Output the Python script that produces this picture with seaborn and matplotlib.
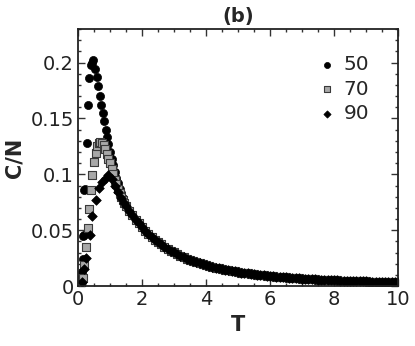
import matplotlib
matplotlib.use("Agg")
import matplotlib.pyplot as plt
import seaborn as sns
import pandas as pd
from matplotlib.ticker import MultipleLocator, FuncFormatter

# ---- data ----
T50_low = [0.12, 0.13, 0.14, 0.16, 0.17, 0.19, 0.20, 0.21, 0.27, 0.31, 0.35, 0.40, 0.44,
           0.48, 0.54, 0.60, 0.64, 0.69, 0.72, 0.77, 0.82, 0.86, 0.90, 0.95, 1.00, 1.05,
           1.10, 1.15, 1.20, 1.25, 1.30, 1.35, 1.40, 1.45]
C50_low = [0.004, 0.008, 0.013, 0.024, 0.045, 0.046, 0.086, 0.087, 0.128, 0.1625, 0.186,
           0.198, 0.200, 0.202, 0.194, 0.187, 0.179, 0.170, 0.1625, 0.155, 0.148, 0.140,
           0.133, 0.127, 0.120, 0.114, 0.108, 0.102, 0.097, 0.092, 0.087, 0.083, 0.079, 0.075]

T70_low = [0.10, 0.15, 0.20, 0.25, 0.30, 0.35, 0.40, 0.45, 0.50, 0.55, 0.60, 0.65, 0.70,
           0.75, 0.80, 0.85, 0.90, 0.95, 1.00, 1.05, 1.10, 1.15, 1.20, 1.25, 1.30, 1.35,
           1.40, 1.45]
C70_low = [0.002, 0.007, 0.019, 0.035, 0.052, 0.069, 0.086, 0.0995, 0.111, 0.119, 0.125,
           0.128, 0.129, 0.128, 0.126, 0.123, 0.118, 0.114, 0.110, 0.105, 0.100, 0.095,
           0.091, 0.087, 0.083, 0.080, 0.077, 0.074]

T90_low = [0.11, 0.18, 0.25, 0.36, 0.45, 0.55, 0.65, 0.76, 0.86, 0.95, 1.05, 1.15, 1.25,
           1.35, 1.45]
C90_low = [0.004, 0.015, 0.025, 0.046, 0.063, 0.077, 0.088, 0.093, 0.097, 0.099, 0.096,
           0.090, 0.084, 0.079, 0.074]

T_tail = [1.5, 1.6, 1.7, 1.8, 1.9, 2.0, 2.1, 2.2, 2.3, 2.4, 2.5, 2.6, 2.7, 2.8, 2.9,
          3.0, 3.1, 3.2, 3.3, 3.4, 3.5, 3.6, 3.7, 3.8, 3.9, 4.0, 4.1, 4.2, 4.3, 4.4,
          4.5, 4.6, 4.7, 4.8, 4.9, 5.0, 5.1, 5.2, 5.3, 5.4, 5.5, 5.6, 5.7, 5.8, 5.9,
          6.0, 6.1, 6.2, 6.3, 6.4, 6.5, 6.6, 6.7, 6.8, 6.9, 7.0, 7.1, 7.2, 7.3, 7.4,
          7.5, 7.6, 7.7, 7.8, 7.9, 8.0, 8.1, 8.2, 8.3, 8.4, 8.5, 8.6, 8.7, 8.8, 8.9,
          9.0, 9.1, 9.2, 9.3, 9.4, 9.5, 9.6, 9.7, 9.8, 9.9, 10.0]
C_tail = [0.0717, 0.0674, 0.0634, 0.0596, 0.0561, 0.0528, 0.0497, 0.0469, 0.0442, 0.0417,
          0.0394, 0.0373, 0.0353, 0.0334, 0.0317, 0.0301, 0.0286, 0.0272, 0.0259, 0.0247,
          0.0235, 0.0225, 0.0215, 0.0205, 0.0196, 0.0188, 0.0180, 0.0173, 0.0166, 0.0159,
          0.0153, 0.0147, 0.0142, 0.0136, 0.0131, 0.0127, 0.0122, 0.0118, 0.0114, 0.0110,
          0.0106, 0.0103, 0.0100, 0.0097, 0.0094, 0.0091, 0.0088, 0.0085, 0.0083, 0.0080,
          0.0078, 0.0076, 0.0074, 0.0072, 0.0070, 0.0068, 0.0066, 0.0064, 0.0063, 0.0061,
          0.0059, 0.0058, 0.0057, 0.0055, 0.0054, 0.0053, 0.0051, 0.0050, 0.0049, 0.0048,
          0.0047, 0.0046, 0.0045, 0.0044, 0.0043, 0.0042, 0.0041, 0.0040, 0.0039, 0.0039,
          0.0038, 0.0037, 0.0036, 0.0036, 0.0035, 0.0034]

labels = ["50", "70", "90"]
x_ticks = [0, 2, 4, 6, 8, 10]
y_ticks = [0, 0.05, 0.1, 0.15, 0.2]

series = {
    "50": (T50_low + T_tail, C50_low + C_tail),
    "70": (T70_low + T_tail, C70_low + C_tail),
    "90": (T90_low + T_tail, C90_low + C_tail),
}
styles = {
    "50": dict(marker="o", s=34, color="black", edgecolor="black", linewidth=0.5),
    "70": dict(marker="s", s=30, color="#a8a8a8", edgecolor="#3a3a3a", linewidth=0.8),
    "90": dict(marker="D", s=24, color="black", edgecolor="black", linewidth=0.5),
}

sns.set_style("ticks")
plt.rcParams["font.family"] = ["DejaVu Sans"]

fig = plt.figure(figsize=(4.15, 3.46), dpi=100)
ax = fig.add_axes([0.188, 0.173, 0.771, 0.743])

for lab in labels:
    T, C = series[lab]
    df = pd.DataFrame({"T": T, "C": C})
    sns.scatterplot(data=df, x="T", y="C", ax=ax, label=lab, clip_on=True, **styles[lab])

ax.set_xlim(0, 10)
ax.set_ylim(0, 0.23)
ax.set_xticks(x_ticks)
ax.set_yticks(y_ticks)
ax.xaxis.set_minor_locator(MultipleLocator(0.5))
ax.yaxis.set_minor_locator(MultipleLocator(0.01))
ax.yaxis.set_major_formatter(FuncFormatter(lambda v, p: f"{v:g}"))
ax.tick_params(which="both", direction="in", top=True, right=True, width=1.0,
               color="#333333")
ax.tick_params(which="major", length=5, labelsize=14, labelcolor="#222222", pad=3)
ax.tick_params(which="minor", length=2.5)
for sp in ax.spines.values():
    sp.set_linewidth(1.3)
    sp.set_color("#222222")

ax.set_xlabel("T", fontsize=15, fontweight="bold", labelpad=4)
ax.set_ylabel("C/N", fontsize=15, fontweight="bold", labelpad=4)
ax.set_title("(b)", fontsize=14, fontweight="bold", pad=5)

leg = ax.legend(loc="upper left", bbox_to_anchor=(0.72, 0.93), frameon=False,
                fontsize=14.5, handletextpad=0.35, labelspacing=0.27, borderaxespad=0.0,
                handlelength=1.0, markerscale=0.75)

fig.savefig("out.png", dpi=100)
